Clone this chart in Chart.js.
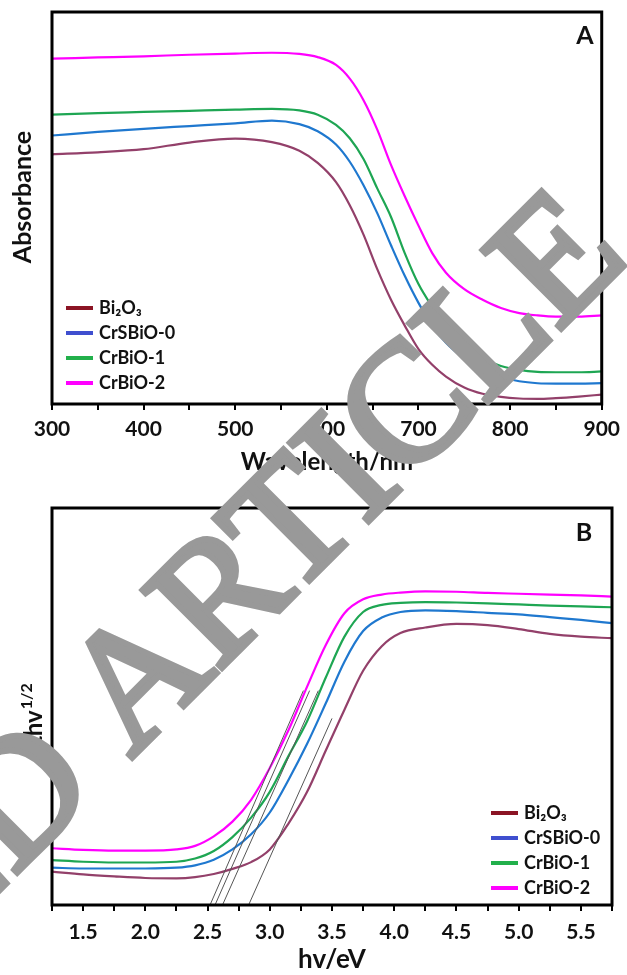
<!DOCTYPE html>
<html>
<head>
<meta charset="utf-8">
<script src="https://cdn.jsdelivr.net/npm/chart.js@4.4.1/dist/chart.umd.min.js"></script>
<style>
  html, body { margin: 0; padding: 0; background: #fff; }
  #wrap { position: relative; width: 627px; height: 975px; overflow: hidden; }
  #panelA { position: absolute; left: 0; top: 0; }
  #panelB { position: absolute; left: 0; top: 480px; }
  #stamp { position: absolute; left: 0; top: 0; pointer-events: none; }
</style>
</head>
<body>
<div id="wrap">
  <canvas id="panelA" width="627" height="480"></canvas>
  <canvas id="panelB" width="627" height="495"></canvas>
  <svg id="stamp" width="627" height="975">
    <g transform="rotate(-45 131 759)" font-family="'Liberation Serif', 'DejaVu Serif', serif" font-size="170" fill="#999999" stroke="#999999" stroke-width="6" stroke-linejoin="miter">
      <text x="88" y="759" text-anchor="end">RETRACTED</text>
      <text x="131" y="759">ARTICLE</text>
    </g>
  </svg>
</div>
<script>
// --- series names / colours ---
const seriesNames = ['Bi₂O₃', 'CrSBiO-0', 'CrBiO-1', 'CrBiO-2'];
const lineColors = ['#93406a', '#1f78cf', '#1ea653', '#ff00ff'];
const legendColors = ['#8b1424', '#3f4fcf', '#22b04b', '#ff00ff'];

// --- panel A: UV-vis absorbance (arb. units) ---
const wavelength = [300, 350, 400, 450, 500, 540, 570, 590, 610, 625, 640, 655, 670, 685, 700, 715, 730, 750, 770, 790, 810, 830, 850, 875, 900];
const absBi2O3  = [63.7, 64.2, 65.0, 66.7, 67.7, 66.8, 64.6, 61.5, 56.6, 50.7, 43.2, 34.4, 26.6, 20.0, 14.0, 10.0, 7.0, 4.2, 2.6, 1.8, 1.4, 1.3, 1.5, 1.9, 2.4];
const absCrSBiO0 = [68.5, 69.4, 70.2, 70.9, 71.6, 72.3, 71.4, 69.6, 66.2, 61.8, 55.8, 48.7, 40.5, 32.7, 25.8, 20.0, 15.6, 11.6, 8.8, 6.9, 5.8, 5.3, 5.2, 5.2, 5.3];
const absCrBiO1 = [73.8, 74.2, 74.5, 74.8, 75.1, 75.3, 74.9, 73.8, 71.2, 67.8, 62.5, 55.0, 47.7, 38.5, 30.6, 24.8, 19.8, 15.0, 11.6, 9.7, 8.7, 8.2, 8.1, 8.1, 8.3];
const absCrBiO2 = [88.1, 88.4, 88.7, 89.1, 89.4, 89.6, 89.3, 88.5, 86.5, 83.0, 77.5, 70.0, 61.0, 53.0, 45.5, 38.5, 33.5, 29.3, 26.6, 24.5, 23.2, 22.6, 22.3, 22.3, 22.6];

// --- panel B: Tauc plot ---
const photonEnergy = [1.25, 1.5, 1.75, 2.0, 2.25, 2.4, 2.55, 2.7, 2.85, 3.0, 3.15, 3.3, 3.45, 3.6, 3.75, 3.9, 4.05, 4.25, 4.5, 4.75, 5.0, 5.25, 5.5, 5.75];
const taucBi2O3  = [8.4, 7.7, 7.2, 6.8, 6.7, 7.0, 7.8, 9.1, 10.8, 14.0, 20.5, 28.5, 38.9, 49.2, 59.0, 65.2, 68.5, 69.9, 70.8, 70.5, 69.5, 68.3, 67.6, 67.2];
const taucCrSBiO0 = [9.4, 9.2, 9.2, 9.2, 9.4, 10.0, 11.4, 14.0, 17.8, 23.3, 31.5, 40.6, 50.8, 61.3, 69.0, 72.4, 73.8, 74.2, 74.0, 73.6, 73.2, 72.5, 71.8, 71.0];
const taucCrBiO1 = [11.3, 10.9, 10.7, 10.7, 10.9, 11.7, 13.6, 17.1, 22.0, 28.5, 37.5, 46.3, 57.3, 67.6, 73.8, 75.6, 76.1, 76.3, 76.2, 76.0, 75.7, 75.4, 75.2, 75.0];
const taucCrBiO2 = [14.3, 13.9, 13.7, 13.7, 14.0, 14.9, 17.3, 21.0, 26.5, 34.5, 44.0, 55.0, 65.5, 73.5, 77.0, 78.2, 78.7, 79.0, 78.9, 78.6, 78.4, 78.2, 78.0, 77.7];

// band-gap extrapolation lines (x-intercept -> upper end)
const bandGap = [2.83, 2.62, 2.56, 2.52];
const tangentTopX = [3.50, 3.39, 3.32, 3.27];
const tangentTopY = [47, 54, 54, 54];

// tick labels
const waveLabels = [300, 400, 500, 600, 700, 800, 900];
const energyLabels = [1.5, 2.0, 2.5, 3.0, 3.5, 4.0, 4.5, 5.0, 5.5];

const FONT = 'Lato, "Open Sans", sans-serif';
const INK = '#111';

function toPoints(xs, ys) {
  return xs.map((x, i) => ({ x: x, y: ys[i] }));
}

function curveSet(label, xs, ys, i) {
  return {
    label: label,
    data: toPoints(xs, ys),
    borderColor: lineColors[i],
    borderWidth: 2.2,
    pointRadius: 0,
    cubicInterpolationMode: 'monotone',
    order: 1
  };
}

// frame, panel letter, legend and rotated y title (with optional superscript)
const panelDecor = {
  id: 'panelDecor',
  afterDraw(chart, args, opts) {
    const { ctx, chartArea: a } = chart;
    ctx.save();
    ctx.lineWidth = 3;
    ctx.strokeStyle = '#000';
    ctx.strokeRect(a.left, a.top, a.right - a.left, a.bottom - a.top);

    ctx.fillStyle = INK;
    ctx.font = 'bold 25px ' + FONT;
    ctx.textAlign = 'center';
    ctx.textBaseline = 'middle';
    ctx.fillText(opts.letter, opts.letterX, opts.letterY);

    ctx.font = 'bold 18px ' + FONT;
    ctx.textAlign = 'left';
    seriesNames.forEach((name, i) => {
      const y = opts.legendY + i * 25;
      ctx.fillStyle = legendColors[i];
      ctx.fillRect(opts.legendX, y - 2, 27, 4);
      ctx.fillStyle = INK;
      ctx.fillText(name, opts.legendX + 33, y);
    });

    ctx.translate(opts.yTitleX, opts.yTitleY);
    ctx.rotate(-Math.PI / 2);
    ctx.textBaseline = 'alphabetic';
    ctx.font = 'bold ' + opts.yTitleSize + 'px ' + FONT;
    const w1 = ctx.measureText(opts.yTitle).width;
    let w2 = 0;
    if (opts.yTitleSup) {
      ctx.font = 'bold 16px ' + FONT;
      w2 = ctx.measureText(opts.yTitleSup).width + 1;
    }
    const start = -(w1 + w2) / 2;
    ctx.font = 'bold ' + opts.yTitleSize + 'px ' + FONT;
    ctx.fillText(opts.yTitle, start, 0);
    if (opts.yTitleSup) {
      ctx.font = 'bold 16px ' + FONT;
      ctx.fillText(opts.yTitleSup, start + w1 + 1, -10);
    }
    ctx.restore();
  }
};

const tickGrid = { drawOnChartArea: false, drawTicks: true, tickLength: 6, lineWidth: 2, color: '#000' };

// --- A ---
new Chart(document.getElementById('panelA').getContext('2d'), {
  type: 'line',
  data: {
    datasets: [
      curveSet(seriesNames[0], wavelength, absBi2O3, 0),
      curveSet(seriesNames[1], wavelength, absCrSBiO0, 1),
      curveSet(seriesNames[2], wavelength, absCrBiO1, 2),
      curveSet(seriesNames[3], wavelength, absCrBiO2, 3)
    ]
  },
  options: {
    responsive: false,
    animation: false,
    devicePixelRatio: 1,
    layout: { padding: { top: 12, right: 23, left: 0, bottom: 0 } },
    plugins: {
      legend: { display: false },
      tooltip: { enabled: false },
      panelDecor: {
        letter: 'A', letterX: 585, letterY: 36, legendX: 66, legendY: 308,
        yTitle: 'Absorbance', yTitleSize: 25, yTitleX: 31, yTitleY: 197
      }
    },
    scales: {
      x: {
        type: 'linear', min: 300, max: 900,
        ticks: {
          stepSize: 50, autoSkip: false, maxRotation: 0, padding: 7, color: INK,
          font: { family: FONT, size: 21, weight: 'bold' },
          callback: v => waveLabels.includes(v) ? String(v) : ''
        },
        grid: tickGrid,
        border: { display: false },
        title: { display: true, text: 'Wavelength/nm', color: INK, padding: { top: 0, bottom: 3 }, font: { family: FONT, size: 24, weight: 'bold' } },
        afterFit(s) { s.height = 76; }
      },
      y: {
        min: 0, max: 100,
        ticks: { display: false },
        grid: { display: false },
        border: { display: false },
        afterFit(s) { s.width = 52; }
      }
    }
  },
  plugins: [panelDecor]
});

// --- B ---
const tangentSets = bandGap.map((g, i) => ({
  label: 'fit ' + seriesNames[i],
  data: [{ x: g, y: 0 }, { x: tangentTopX[i], y: tangentTopY[i] }],
  borderColor: '#555',
  borderWidth: 1,
  pointRadius: 0,
  order: 0
}));

new Chart(document.getElementById('panelB').getContext('2d'), {
  type: 'line',
  data: {
    datasets: [
      curveSet(seriesNames[0], photonEnergy, taucBi2O3, 0),
      curveSet(seriesNames[1], photonEnergy, taucCrSBiO0, 1),
      curveSet(seriesNames[2], photonEnergy, taucCrBiO1, 2),
      curveSet(seriesNames[3], photonEnergy, taucCrBiO2, 3)
    ].concat(tangentSets)
  },
  options: {
    responsive: false,
    animation: false,
    devicePixelRatio: 1,
    layout: { padding: { top: 28, right: 15, left: 0, bottom: 0 } },
    plugins: {
      legend: { display: false },
      tooltip: { enabled: false },
      panelDecor: {
        letter: 'B', letterX: 584, letterY: 53, legendX: 491, legendY: 333,
        yTitle: 'αhv', yTitleSup: '1/2', yTitleSize: 24, yTitleX: 42, yTitleY: 237
      }
    },
    scales: {
      x: {
        type: 'linear', min: 1.25, max: 5.75,
        ticks: {
          stepSize: 0.25, autoSkip: false, maxRotation: 0, padding: 9, color: INK,
          font: { family: FONT, size: 21, weight: 'bold' },
          callback: v => energyLabels.some(e => Math.abs(e - v) < 1e-6) ? v.toFixed(1) : ''
        },
        grid: tickGrid,
        border: { display: false },
        title: { display: true, text: 'hv/eV', color: INK, padding: { top: 0, bottom: 0 }, font: { family: FONT, size: 26, weight: 'bold' } },
        afterFit(s) { s.height = 70; }
      },
      y: {
        min: 0, max: 100,
        ticks: { display: false },
        grid: { display: false },
        border: { display: false },
        afterFit(s) { s.width = 52; }
      }
    }
  },
  plugins: [panelDecor]
});
</script>
</body>
</html>
